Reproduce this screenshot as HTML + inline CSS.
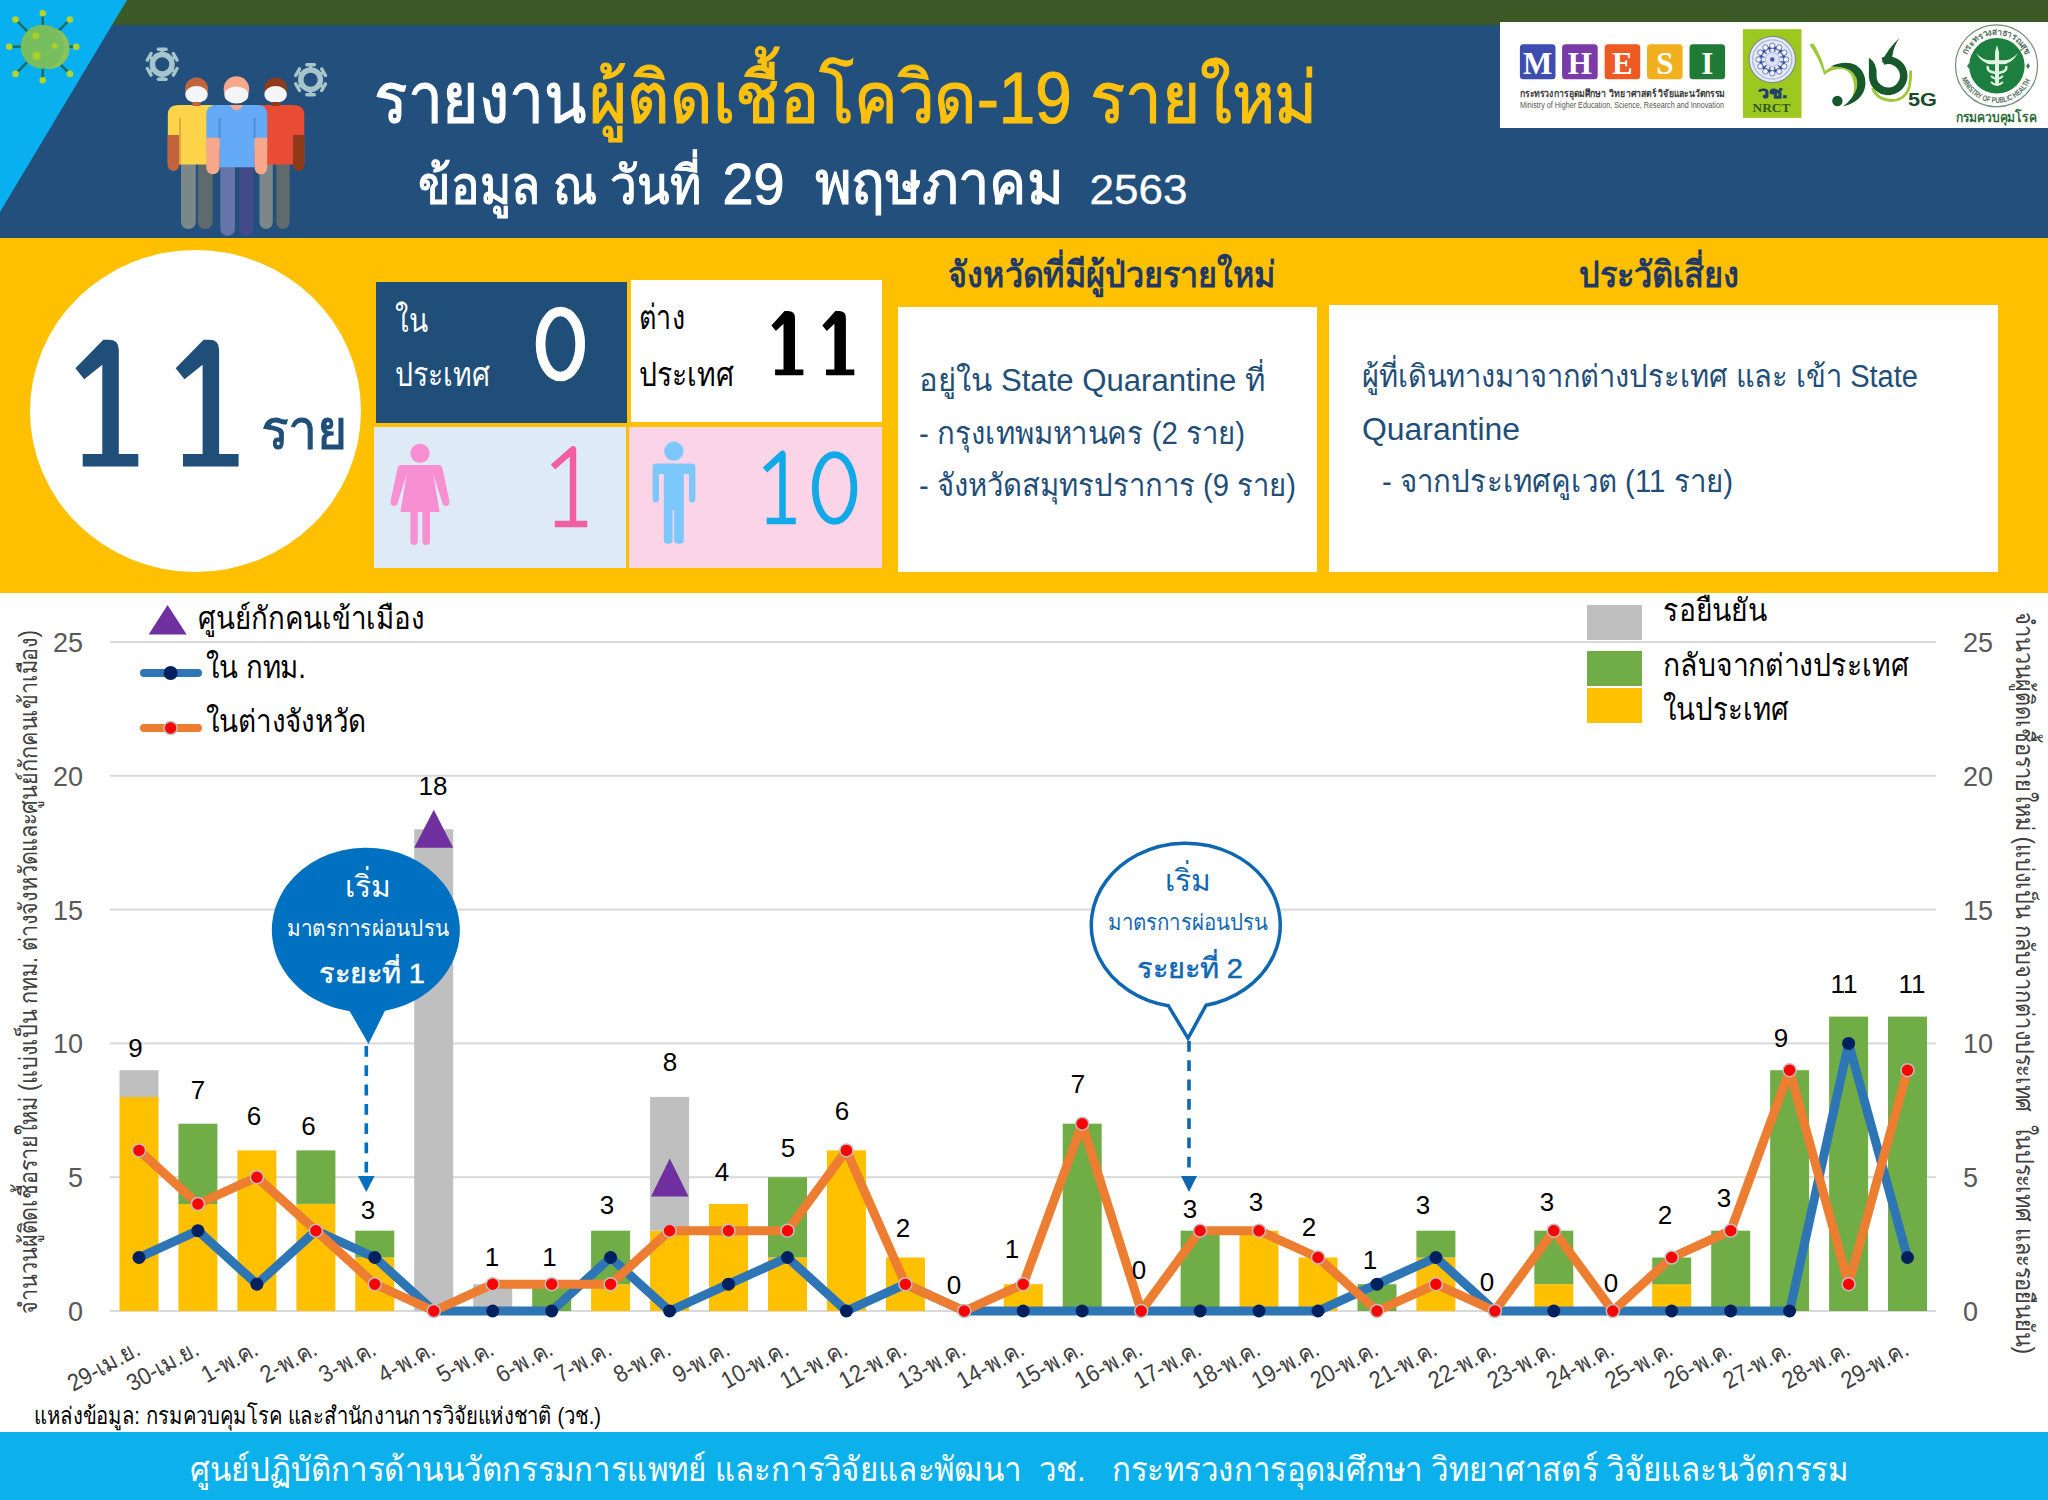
<!DOCTYPE html><html><head><meta charset="utf-8"><style>html,body{margin:0;padding:0;background:#fff;overflow:hidden}svg{display:block}text{font-family:"Liberation Sans",sans-serif;white-space:pre}</style></head><body>
<svg width="2048" height="1500" viewBox="0 0 2048 1500">
<rect width="2048" height="1500" fill="#fff"/>
<rect x="0" y="0" width="2048" height="25" fill="#3b5a27"/>
<rect x="0" y="25" width="2048" height="213" fill="#234f7c"/>
<polygon points="0,0 127,0 0,212" fill="#08b0ef"/>
<rect x="1500" y="22" width="548" height="106" fill="#fff"/>
<line x1="62.7" y1="46.7" x2="76.2" y2="46.7" stroke="#1d6b5c" stroke-width="2.4"/>
<circle cx="76.2" cy="46.7" r="3.3" fill="#b5d42a"/>
<line x1="56.8" y1="60.8" x2="69.9" y2="73.9" stroke="#1d6b5c" stroke-width="2.4"/>
<circle cx="69.9" cy="73.9" r="3.3" fill="#b5d42a"/>
<line x1="42.7" y1="66.7" x2="42.7" y2="80.2" stroke="#1d6b5c" stroke-width="2.4"/>
<circle cx="42.7" cy="80.2" r="3.3" fill="#b5d42a"/>
<line x1="28.6" y1="60.8" x2="15.5" y2="73.9" stroke="#1d6b5c" stroke-width="2.4"/>
<circle cx="15.5" cy="73.9" r="3.3" fill="#b5d42a"/>
<line x1="22.7" y1="46.7" x2="9.2" y2="46.7" stroke="#1d6b5c" stroke-width="2.4"/>
<circle cx="9.2" cy="46.7" r="3.3" fill="#b5d42a"/>
<line x1="28.6" y1="32.6" x2="15.5" y2="19.5" stroke="#1d6b5c" stroke-width="2.4"/>
<circle cx="15.5" cy="19.5" r="3.3" fill="#b5d42a"/>
<line x1="42.7" y1="26.7" x2="42.7" y2="13.2" stroke="#1d6b5c" stroke-width="2.4"/>
<circle cx="42.7" cy="13.2" r="3.3" fill="#b5d42a"/>
<line x1="56.8" y1="32.6" x2="69.9" y2="19.5" stroke="#1d6b5c" stroke-width="2.4"/>
<circle cx="69.9" cy="19.5" r="3.3" fill="#b5d42a"/>
<circle cx="42.7" cy="46.7" r="22" fill="#78bd5e"/>
<path d="M52.7,27.700000000000003 A22,22 0 0 1 44.7,68.7 A20,20 0 0 0 52.7,27.700000000000003 Z" fill="#8cc25a"/>
<circle cx="35.7" cy="35.7" r="3.5" fill="#a8cf2e"/>
<circle cx="54.7" cy="45.7" r="3" fill="#a8cf2e"/>
<circle cx="36.7" cy="55.7" r="4" fill="#a8cf2e"/>
<line x1="162.2" y1="54.3" x2="162.2" y2="49.3" stroke="#a6c4cc" stroke-width="3.2"/>
<line x1="166.0" y1="49.3" x2="158.4" y2="49.3" stroke="#a6c4cc" stroke-width="3.4" stroke-linecap="round"/>
<line x1="153.5" y1="59.3" x2="149.2" y2="56.8" stroke="#a6c4cc" stroke-width="3.2"/>
<line x1="151.1" y1="53.5" x2="147.3" y2="60.1" stroke="#a6c4cc" stroke-width="3.4" stroke-linecap="round"/>
<line x1="153.5" y1="69.3" x2="149.2" y2="71.8" stroke="#a6c4cc" stroke-width="3.2"/>
<line x1="147.3" y1="68.5" x2="151.1" y2="75.1" stroke="#a6c4cc" stroke-width="3.4" stroke-linecap="round"/>
<line x1="162.2" y1="74.3" x2="162.2" y2="79.3" stroke="#a6c4cc" stroke-width="3.2"/>
<line x1="158.4" y1="79.3" x2="166.0" y2="79.3" stroke="#a6c4cc" stroke-width="3.4" stroke-linecap="round"/>
<line x1="170.9" y1="69.3" x2="175.2" y2="71.8" stroke="#a6c4cc" stroke-width="3.2"/>
<line x1="173.3" y1="75.1" x2="177.1" y2="68.5" stroke="#a6c4cc" stroke-width="3.4" stroke-linecap="round"/>
<line x1="170.9" y1="59.3" x2="175.2" y2="56.8" stroke="#a6c4cc" stroke-width="3.2"/>
<line x1="177.1" y1="60.1" x2="173.3" y2="53.5" stroke="#a6c4cc" stroke-width="3.4" stroke-linecap="round"/>
<circle cx="162.2" cy="64.3" r="9.8" fill="none" stroke="#a6c4cc" stroke-width="5.5"/>
<line x1="310.6" y1="69.7" x2="310.6" y2="64.7" stroke="#a6c4cc" stroke-width="3.2"/>
<line x1="314.4" y1="64.7" x2="306.8" y2="64.7" stroke="#a6c4cc" stroke-width="3.4" stroke-linecap="round"/>
<line x1="301.9" y1="74.7" x2="297.6" y2="72.2" stroke="#a6c4cc" stroke-width="3.2"/>
<line x1="299.5" y1="68.9" x2="295.7" y2="75.5" stroke="#a6c4cc" stroke-width="3.4" stroke-linecap="round"/>
<line x1="301.9" y1="84.7" x2="297.6" y2="87.2" stroke="#a6c4cc" stroke-width="3.2"/>
<line x1="295.7" y1="83.9" x2="299.5" y2="90.5" stroke="#a6c4cc" stroke-width="3.4" stroke-linecap="round"/>
<line x1="310.6" y1="89.7" x2="310.6" y2="94.7" stroke="#a6c4cc" stroke-width="3.2"/>
<line x1="306.8" y1="94.7" x2="314.4" y2="94.7" stroke="#a6c4cc" stroke-width="3.4" stroke-linecap="round"/>
<line x1="319.3" y1="84.7" x2="323.6" y2="87.2" stroke="#a6c4cc" stroke-width="3.2"/>
<line x1="321.7" y1="90.5" x2="325.5" y2="83.9" stroke="#a6c4cc" stroke-width="3.4" stroke-linecap="round"/>
<line x1="319.3" y1="74.7" x2="323.6" y2="72.2" stroke="#a6c4cc" stroke-width="3.2"/>
<line x1="325.5" y1="75.5" x2="321.7" y2="68.9" stroke="#a6c4cc" stroke-width="3.4" stroke-linecap="round"/>
<circle cx="310.6" cy="79.7" r="9.8" fill="none" stroke="#a6c4cc" stroke-width="5.5"/>
<rect x="181" y="150" width="14.8" height="79" rx="7" fill="#7c878a"/>
<rect x="198" y="150" width="14.6" height="79" rx="7" fill="#5e6a6c"/>
<path d="M167.8,164.4 L167.8,115 Q167.8,105 178,105 L214,105 L214,164.4 Z" fill="#fdd34a"/>
<rect x="167.8" y="135" width="11.2" height="36" rx="5.6" fill="#c4633b"/>
<rect x="167.8" y="135" width="11.2" height="8" fill="#c4633b"/>
<rect x="179" y="118" width="2" height="47" fill="#b0893a" opacity="0.5"/>
<rect x="259.5" y="150" width="13.3" height="79" rx="6.6" fill="#7c878a"/>
<rect x="276.3" y="150" width="13.3" height="79" rx="6.6" fill="#5e6a6c"/>
<path d="M250,105 L294,105 Q304.3,105 304.3,115 L304.3,164.4 L250,164.4 Z" fill="#e84c35"/>
<rect x="293.1" y="135" width="11.2" height="36" rx="5.6" fill="#8c3a1a"/>
<rect x="293.1" y="135" width="11.2" height="8" fill="#8c3a1a"/>
<circle cx="196.5" cy="89" r="11.5" fill="#c4633b"/>
<ellipse cx="196.5" cy="94.5" rx="11.2" ry="8.5" fill="#f3f5f8"/>
<rect x="192.5" y="102" width="8" height="4" fill="#c4633b"/>
<circle cx="275.6" cy="89" r="11.5" fill="#8f3a1c"/>
<ellipse cx="275.6" cy="94.5" rx="11.2" ry="8.5" fill="#f3f5f8"/>
<rect x="271.6" y="102" width="8" height="4" fill="#8f3a1c"/>
<rect x="220.3" y="160" width="14.7" height="76" rx="7.3" fill="#6574a9"/>
<rect x="239.2" y="160" width="14" height="76" rx="7" fill="#434a8a"/>
<path d="M206.3,150 L206.3,115 Q206.3,105 216,105 L257.5,105 Q267.2,105 267.2,115 L267.2,150 L254.6,150 L254.6,167.2 L219.6,167.2 L219.6,150 Z" fill="#64aaf6"/>
<rect x="206.3" y="137.8" width="13.3" height="36.5" rx="6.6" fill="#f7a88b"/>
<rect x="206.3" y="137.8" width="13.3" height="8" fill="#f7a88b"/>
<rect x="254.6" y="137.8" width="12.6" height="36.5" rx="6.3" fill="#f7a88b"/>
<rect x="254.6" y="137.8" width="12.6" height="8" fill="#f7a88b"/>
<rect x="218.6" y="118" width="2" height="20" fill="#3d7cc0" opacity="0.6"/>
<rect x="253.6" y="118" width="2" height="20" fill="#3d7cc0" opacity="0.6"/>
<path d="M230,105 L243,105 Q241,110 236.5,110 Q232,110 230,105 Z" fill="#f7a88b"/>
<circle cx="236.4" cy="89" r="12.8" fill="#f7a88b"/>
<ellipse cx="236.4" cy="95" rx="12" ry="8.6" fill="#f3f5f8"/>
<rect x="1519.9" y="44.3" width="35.6" height="35" rx="3.5" fill="#3d4db0"/>
<text x="1537.7" y="74.2" font-size="31" fill="#fff" font-weight="bold" text-anchor="middle" style="font-family:'Liberation Serif',serif">M</text>
<rect x="1562.1" y="44.3" width="35.6" height="35" rx="3.5" fill="#7a3aa8"/>
<text x="1579.8999999999999" y="74.2" font-size="31" fill="#fff" font-weight="bold" text-anchor="middle" style="font-family:'Liberation Serif',serif">H</text>
<rect x="1604.6" y="44.3" width="35.6" height="35" rx="3.5" fill="#ee5a24"/>
<text x="1622.3999999999999" y="74.2" font-size="31" fill="#fff" font-weight="bold" text-anchor="middle" style="font-family:'Liberation Serif',serif">E</text>
<rect x="1647" y="44.3" width="35.6" height="35" rx="3.5" fill="#f2b01e"/>
<text x="1664.8" y="74.2" font-size="31" fill="#fff" font-weight="bold" text-anchor="middle" style="font-family:'Liberation Serif',serif">S</text>
<rect x="1689.5" y="44.3" width="35.6" height="35" rx="3.5" fill="#1e7a35"/>
<text x="1707.3" y="74.2" font-size="31" fill="#fff" font-weight="bold" text-anchor="middle" style="font-family:'Liberation Serif',serif">I</text>
<text x="1520" y="96.5" font-size="10" fill="#3a3a3a" font-weight="bold" text-anchor="start" textLength="205" lengthAdjust="spacingAndGlyphs" >กระทรวงการอุดมศึกษา วิทยาศาสตร์ วิจัยและนวัตกรรม</text>
<text x="1520" y="107.8" font-size="8.5" fill="#555" font-weight="normal" text-anchor="start" textLength="204" lengthAdjust="spacingAndGlyphs" >Ministry of Higher Education, Science, Research and Innovation</text>
<rect x="1742.9" y="29.2" width="58.6" height="88.7" fill="#9dc81f"/>
<circle cx="1772.3" cy="59.5" r="23.2" fill="#e6eaf7" stroke="#7f8f86" stroke-width="1.2"/>
<circle cx="1772.3" cy="59.5" r="19.6" fill="none" stroke="#aab3dc" stroke-width="1.2"/>
<line x1="1780.0" y1="61.6" x2="1782.9" y2="62.3" stroke="#4a5fae" stroke-width="1.3"/>
<line x1="1778.0" y1="65.2" x2="1780.1" y2="67.3" stroke="#4a5fae" stroke-width="1.3"/>
<line x1="1774.4" y1="67.2" x2="1775.1" y2="70.1" stroke="#4a5fae" stroke-width="1.3"/>
<line x1="1770.2" y1="67.2" x2="1769.5" y2="70.1" stroke="#4a5fae" stroke-width="1.3"/>
<line x1="1766.6" y1="65.2" x2="1764.5" y2="67.3" stroke="#4a5fae" stroke-width="1.3"/>
<line x1="1764.6" y1="61.6" x2="1761.7" y2="62.3" stroke="#4a5fae" stroke-width="1.3"/>
<line x1="1764.6" y1="57.4" x2="1761.7" y2="56.7" stroke="#4a5fae" stroke-width="1.3"/>
<line x1="1766.6" y1="53.8" x2="1764.5" y2="51.7" stroke="#4a5fae" stroke-width="1.3"/>
<line x1="1770.2" y1="51.8" x2="1769.5" y2="48.9" stroke="#4a5fae" stroke-width="1.3"/>
<line x1="1774.4" y1="51.8" x2="1775.1" y2="48.9" stroke="#4a5fae" stroke-width="1.3"/>
<line x1="1778.0" y1="53.8" x2="1780.1" y2="51.7" stroke="#4a5fae" stroke-width="1.3"/>
<line x1="1780.0" y1="57.4" x2="1782.9" y2="56.7" stroke="#4a5fae" stroke-width="1.3"/>
<circle cx="1772.3" cy="59.5" r="7" fill="#dde3f4" stroke="#9aa8d8" stroke-width="0.8"/>
<circle cx="1772.3" cy="59.5" r="12" fill="none" stroke="#2f4a9a" stroke-width="2.6"/>
<circle cx="1786.1" cy="59.5" r="2.7" fill="#f4f6fc" stroke="#5a6db5" stroke-width="0.9"/>
<circle cx="1784.3" cy="66.4" r="2.7" fill="#f4f6fc" stroke="#5a6db5" stroke-width="0.9"/>
<circle cx="1779.2" cy="71.5" r="2.7" fill="#f4f6fc" stroke="#5a6db5" stroke-width="0.9"/>
<circle cx="1772.3" cy="73.3" r="2.7" fill="#f4f6fc" stroke="#5a6db5" stroke-width="0.9"/>
<circle cx="1765.4" cy="71.5" r="2.7" fill="#f4f6fc" stroke="#5a6db5" stroke-width="0.9"/>
<circle cx="1760.3" cy="66.4" r="2.7" fill="#f4f6fc" stroke="#5a6db5" stroke-width="0.9"/>
<circle cx="1758.5" cy="59.5" r="2.7" fill="#f4f6fc" stroke="#5a6db5" stroke-width="0.9"/>
<circle cx="1760.3" cy="52.6" r="2.7" fill="#f4f6fc" stroke="#5a6db5" stroke-width="0.9"/>
<circle cx="1765.4" cy="47.5" r="2.7" fill="#f4f6fc" stroke="#5a6db5" stroke-width="0.9"/>
<circle cx="1772.3" cy="45.7" r="2.7" fill="#f4f6fc" stroke="#5a6db5" stroke-width="0.9"/>
<circle cx="1779.2" cy="47.5" r="2.7" fill="#f4f6fc" stroke="#5a6db5" stroke-width="0.9"/>
<circle cx="1784.3" cy="52.6" r="2.7" fill="#f4f6fc" stroke="#5a6db5" stroke-width="0.9"/>
<circle cx="1772.3" cy="59.5" r="2.2" fill="#3d56a8"/>
<text x="1772.5" y="98.4" font-size="16" fill="#23406e" font-weight="bold" text-anchor="middle" textLength="30" stroke="#23406e" stroke-width="0.6" lengthAdjust="spacingAndGlyphs">วช.</text>
<text x="1771.5" y="111.8" font-size="11.5" fill="#2e5a1e" font-weight="bold" text-anchor="middle" textLength="38" lengthAdjust="spacingAndGlyphs" style="font-family:'Liberation Serif',serif">NRCT</text>
<path d="M1809.5,44.7 L1813.5,43.5 Q1822,57 1825,71 Q1834,63 1846,65.5 Q1857,69 1858,84 Q1858,95 1851.3,100.5 Q1854.5,92 1854,84 Q1852,71 1843,69 Q1832,68 1824.2,75 Q1819,58 1809.5,44.7 Z" fill="#9cc83a"/>
<path d="M1830.8,66.6 Q1844,60 1856,65 Q1866,72 1865.5,84 Q1864,101 1843,106.5 Q1853,99 1857,88 Q1859,76 1850,70 Q1841,66 1830.8,66.6 Z" fill="#17592c"/>
<circle cx="1837.4" cy="101" r="5.2" fill="#17592c"/>
<path d="M1872.5,88 Q1877,100 1891.5,100.5 Q1906,100 1909.5,86 Q1911,78 1910.6,70.5" fill="none" stroke="#9cc83a" stroke-width="2.8"/>
<path d="M1872.7,75.8 A15.5,15.5 0 1 0 1882.8,61.3" fill="none" stroke="#17592c" stroke-width="7.6"/>
<path d="M1868.9,76 L1868.9,57.8 Q1877.5,63 1876.6,76 Z" fill="#17592c"/>
<path d="M1881.5,62.5 Q1888,48 1899.6,38 Q1893,47 1892.3,57 Z" fill="#17592c"/>
<text x="1908" y="106" font-size="19" fill="#1a4a2a" font-weight="bold" textLength="29" lengthAdjust="spacingAndGlyphs">5G</text>
<circle cx="1996.5" cy="65.8" r="41" fill="#fff" stroke="#6f8f78" stroke-width="1.2"/>
<path id="mtop" d="M1967.4,55.2 A31,31 0 0 1 2025.6,55.2" fill="none"/>
<path id="mbot" d="M1961.7,78.45 A37,37 0 0 0 2031.3,78.45" fill="none"/>
<text font-size="9" fill="#56705c" font-weight="bold"><textPath href="#mtop" textLength="75" lengthAdjust="spacingAndGlyphs">กระทรวงสาธารณสุข</textPath></text>
<text font-size="8" fill="#56705c" font-weight="bold"><textPath href="#mbot" textLength="88" lengthAdjust="spacingAndGlyphs">MINISTRY OF PUBLIC HEALTH</textPath></text>
<path d="M1967,66 l2,-3 l2,3 l-2,3 Z M2026,66 l2,-3 l2,3 l-2,3 Z" fill="#56705c"/>
<circle cx="1996.9" cy="65.8" r="27.8" fill="#1d7f3f"/>
<path d="M1997,45 L1999,52 L1999,85 L1995,85 L1995,52 Z" fill="#dff3df"/>
<path d="M1976,53 Q1984,62 1995,60 L1995,64 Q1983,66 1976,53 Z M2018,53 Q2010,62 1999,60 L1999,64 Q2011,66 2018,53 Z" fill="#dff3df"/>
<path d="M1988,66 Q1986,72 1997,73 Q2008,72 2006,66" fill="none" stroke="#dff3df" stroke-width="2.5"/>
<path d="M1991,76 Q1997,82 2003,76 M1991,82 Q1997,88 2003,82" fill="none" stroke="#dff3df" stroke-width="2"/>
<text x="1996.2" y="122" font-size="14" fill="#2d6b3a" font-weight="bold" text-anchor="middle" textLength="81" lengthAdjust="spacingAndGlyphs">กรมควบคุมโรค</text>
<text x="374" y="122.5" font-size="72" fill="#fff" font-weight="normal" text-anchor="start" textLength="212" lengthAdjust="spacingAndGlyphs" stroke="#fff" stroke-width="1.2">รายงาน</text>
<text x="589" y="122.5" font-size="72" fill="#fec10e" font-weight="normal" text-anchor="start" textLength="728" lengthAdjust="spacingAndGlyphs" stroke="#fec10e" stroke-width="1.2">ผู้ติดเชื้อโควิด-19 รายใหม่</text>
<text x="418.4" y="203.5" font-size="53" fill="#fff" font-weight="normal" text-anchor="start" textLength="283" lengthAdjust="spacingAndGlyphs" stroke="#fff" stroke-width="1.2">ข้อมูล ณ วันที่</text>
<text x="722.5" y="204.2" font-size="57" fill="#fff" font-weight="normal" text-anchor="start" textLength="62" lengthAdjust="spacingAndGlyphs" stroke="#fff" stroke-width="1">29</text>
<text x="814.5" y="203.5" font-size="61" fill="#fff" font-weight="normal" text-anchor="start" textLength="249" lengthAdjust="spacingAndGlyphs" stroke="#fff" stroke-width="1.2">พฤษภาคม</text>
<text x="1089.5" y="204.2" font-size="43" fill="#fff" font-weight="normal" text-anchor="start" textLength="98" lengthAdjust="spacingAndGlyphs" stroke="#fff" stroke-width="0.3">2563</text>
<rect x="0" y="238" width="2048" height="355" fill="#fec000"/>
<ellipse cx="195.5" cy="411" rx="165.5" ry="161" fill="#fff"/>
<path d="M82.7,466.5 H138.3 V454.0 H118.8 V349.7 Q118.8,339.8 108.9,339.8 H103.3 L75.4,368.3 L84.2,379.3 L102.3,364.8 V454.0 H82.7 Z" fill="#1f4e79"/>
<path d="M183.0,466.5 H238.6 V454.0 H219.1 V349.7 Q219.1,339.8 209.2,339.8 H203.6 L175.7,368.3 L184.5,379.3 L202.6,364.8 V454.0 H183.0 Z" fill="#1f4e79"/>
<text x="260.5" y="449" font-size="56" fill="#1f4e79" font-weight="normal" text-anchor="start" textLength="87" lengthAdjust="spacingAndGlyphs" stroke="#1f4e79" stroke-width="1">ราย</text>
<rect x="376" y="282" width="251" height="141" fill="#1f4e79"/>
<rect x="631" y="280" width="251" height="142" fill="#fff"/>
<rect x="374" y="427" width="252" height="141" fill="#deebf7"/>
<rect x="629" y="427" width="253" height="141" fill="#fbd4e8"/>
<text x="395" y="332" font-size="34" fill="#fff" font-weight="normal" text-anchor="start" textLength="33" lengthAdjust="spacingAndGlyphs" >ใน</text>
<text x="395" y="386" font-size="34" fill="#fff" font-weight="normal" text-anchor="start" textLength="95" lengthAdjust="spacingAndGlyphs" >ประเทศ</text>
<ellipse cx="560.4" cy="344" rx="19.8" ry="32.5" fill="none" stroke="#fff" stroke-width="9.7"/>
<text x="639" y="329" font-size="34" fill="#000" font-weight="normal" text-anchor="start" textLength="46" lengthAdjust="spacingAndGlyphs" >ต่าง</text>
<text x="639" y="386" font-size="34" fill="#000" font-weight="normal" text-anchor="start" textLength="95" lengthAdjust="spacingAndGlyphs" >ประเทศ</text>
<path d="M775.1,375.3 H803.4 V369.5 H795.0 V317.9 Q795.0,311.0 788.1,311.0 H784.5 L771.4,325.5 L775.9,331.1 L783.5,323.7 V369.5 H775.1 Z" fill="#000"/>
<path d="M826.0,375.3 H854.3 V369.5 H845.9 V317.9 Q845.9,311.0 839.0,311.0 H835.4 L822.3,325.5 L826.8,331.1 L834.4,323.7 V369.5 H826.0 Z" fill="#000"/>
<path d="M553,467 L573,449.5 L573,524 M554.8,524 H587.3" fill="none" stroke="#f0609f" stroke-width="6.5" stroke-linejoin="round"/>
<path d="M765,470 L782.5,454 L782.5,521 M766.7,521 H795.8" fill="none" stroke="#12a9e8" stroke-width="6.5" stroke-linejoin="round"/>
<ellipse cx="834.6" cy="488" rx="19.3" ry="33.4" fill="none" stroke="#12a9e8" stroke-width="6.8"/>
<circle cx="420" cy="453.4" r="9.6" fill="#f88fd2"/>
<path d="M401,465 L439,465 Q442,465 442.6,469 L449.4,501 Q450,505.8 446,506 Q443,506.2 442.4,503 L433.2,474 L439.6,512 L400.4,512 L406.8,474 L397.6,503 Q397,506.2 394,506 Q390,505.8 390.6,501 L397.4,469 Q398,465 401,465 Z" fill="#f88fd2"/>
<rect x="410.4" y="508" width="7.4" height="37" rx="3.7" fill="#f88fd2"/>
<rect x="422.4" y="508" width="7.6" height="37" rx="3.8" fill="#f88fd2"/>
<circle cx="673.8" cy="451.2" r="9.6" fill="#7cc7fb"/>
<path d="M656,463.6 L692,463.6 Q695.4,463.6 695.4,467 L695.4,499 Q695.4,502.5 692.2,502.5 Q689,502.5 689,499 L689,474 L683.8,474 L683.8,540.5 Q683.8,543.8 679,543.8 Q674.2,543.8 674.2,540.5 L674.2,510 L672.6,510 L672.6,540.5 Q672.6,543.8 668.2,543.8 Q663.8,543.8 663.8,540.5 L663.8,474 L659,474 L659,499 Q659,502.5 655.8,502.5 Q652.6,502.5 652.6,499 L652.6,467 Q652.6,463.6 656,463.6 Z" fill="#7cc7fb"/>
<text x="948" y="287" font-size="36" fill="#1f3864" font-weight="bold" text-anchor="start" textLength="328" lengthAdjust="spacingAndGlyphs" >จังหวัดที่มีผู้ป่วยรายใหม่</text>
<text x="1579" y="287" font-size="36" fill="#1f3864" font-weight="bold" text-anchor="start" textLength="160" lengthAdjust="spacingAndGlyphs" >ประวัติเสี่ยง</text>
<rect x="898" y="307" width="419" height="265" fill="#fff"/>
<rect x="1329" y="305" width="669" height="267" fill="#fff"/>
<text x="919" y="391" font-size="31" fill="#1f4e79" font-weight="normal" text-anchor="start" textLength="346" lengthAdjust="spacingAndGlyphs" >อยู่ใน State Quarantine ที่</text>
<text x="919" y="444" font-size="31" fill="#1f4e79" font-weight="normal" text-anchor="start" textLength="326" lengthAdjust="spacingAndGlyphs" >- กรุงเทพมหานคร (2 ราย)</text>
<text x="919" y="496" font-size="31" fill="#1f4e79" font-weight="normal" text-anchor="start" textLength="377" lengthAdjust="spacingAndGlyphs" >- จังหวัดสมุทรปราการ (9 ราย)</text>
<text x="1362" y="387" font-size="31" fill="#1f4e79" font-weight="normal" text-anchor="start" textLength="556" lengthAdjust="spacingAndGlyphs" >ผู้ที่เดินทางมาจากต่างประเทศ และ เข้า State</text>
<text x="1362" y="440" font-size="31" fill="#1f4e79" font-weight="normal" text-anchor="start" textLength="158" lengthAdjust="spacingAndGlyphs" >Quarantine</text>
<text x="1382" y="492" font-size="31" fill="#1f4e79" font-weight="normal" text-anchor="start" textLength="351" lengthAdjust="spacingAndGlyphs" >- จากประเทศคูเวต (11 ราย)</text>
<rect x="110" y="1310.0" width="1826" height="2" fill="#d9d9d9"/>
<text x="83" y="1321.0" font-size="27" fill="#595959" font-weight="normal" text-anchor="end" >0</text>
<text x="1963" y="1321.0" font-size="27" fill="#595959" font-weight="normal" text-anchor="start" >0</text>
<rect x="110" y="1176.2" width="1826" height="2" fill="#d9d9d9"/>
<text x="83" y="1187.2" font-size="27" fill="#595959" font-weight="normal" text-anchor="end" >5</text>
<text x="1963" y="1187.2" font-size="27" fill="#595959" font-weight="normal" text-anchor="start" >5</text>
<rect x="110" y="1042.4" width="1826" height="2" fill="#d9d9d9"/>
<text x="83" y="1053.4" font-size="27" fill="#595959" font-weight="normal" text-anchor="end" >10</text>
<text x="1963" y="1053.4" font-size="27" fill="#595959" font-weight="normal" text-anchor="start" >10</text>
<rect x="110" y="908.6" width="1826" height="2" fill="#d9d9d9"/>
<text x="83" y="919.6" font-size="27" fill="#595959" font-weight="normal" text-anchor="end" >15</text>
<text x="1963" y="919.6" font-size="27" fill="#595959" font-weight="normal" text-anchor="start" >15</text>
<rect x="110" y="774.8" width="1826" height="2" fill="#d9d9d9"/>
<text x="83" y="785.8" font-size="27" fill="#595959" font-weight="normal" text-anchor="end" >20</text>
<text x="1963" y="785.8" font-size="27" fill="#595959" font-weight="normal" text-anchor="start" >20</text>
<rect x="110" y="641.0" width="1826" height="2" fill="#d9d9d9"/>
<text x="83" y="652.0" font-size="27" fill="#595959" font-weight="normal" text-anchor="end" >25</text>
<text x="1963" y="652.0" font-size="27" fill="#595959" font-weight="normal" text-anchor="start" >25</text>
<rect x="119.5" y="1096.9" width="39" height="214.1" fill="#ffc000"/>
<rect x="119.5" y="1070.2" width="39" height="26.8" fill="#bfbfbf"/>
<rect x="178.4" y="1204.0" width="39" height="107.0" fill="#ffc000"/>
<rect x="178.4" y="1123.7" width="39" height="80.3" fill="#70ad47"/>
<rect x="237.4" y="1150.4" width="39" height="160.6" fill="#ffc000"/>
<rect x="296.4" y="1204.0" width="39" height="107.0" fill="#ffc000"/>
<rect x="296.4" y="1150.4" width="39" height="53.5" fill="#70ad47"/>
<rect x="355.3" y="1257.5" width="39" height="53.5" fill="#ffc000"/>
<rect x="355.3" y="1230.7" width="39" height="26.8" fill="#70ad47"/>
<rect x="414.2" y="829.3" width="39" height="481.7" fill="#bfbfbf"/>
<rect x="473.2" y="1284.2" width="39" height="26.8" fill="#bfbfbf"/>
<rect x="532.2" y="1284.2" width="39" height="26.8" fill="#70ad47"/>
<rect x="591.1" y="1284.2" width="39" height="26.8" fill="#ffc000"/>
<rect x="591.1" y="1230.7" width="39" height="53.5" fill="#70ad47"/>
<rect x="650.1" y="1230.7" width="39" height="80.3" fill="#ffc000"/>
<rect x="650.1" y="1096.9" width="39" height="133.8" fill="#bfbfbf"/>
<rect x="709.0" y="1204.0" width="39" height="107.0" fill="#ffc000"/>
<rect x="768.0" y="1257.5" width="39" height="53.5" fill="#ffc000"/>
<rect x="768.0" y="1177.2" width="39" height="80.3" fill="#70ad47"/>
<rect x="826.9" y="1150.4" width="39" height="160.6" fill="#ffc000"/>
<rect x="885.9" y="1257.5" width="39" height="53.5" fill="#ffc000"/>
<rect x="1003.8" y="1284.2" width="39" height="26.8" fill="#ffc000"/>
<rect x="1062.7" y="1123.7" width="39" height="187.3" fill="#70ad47"/>
<rect x="1180.6" y="1230.7" width="39" height="80.3" fill="#70ad47"/>
<rect x="1239.5" y="1230.7" width="39" height="80.3" fill="#ffc000"/>
<rect x="1298.5" y="1257.5" width="39" height="53.5" fill="#ffc000"/>
<rect x="1357.5" y="1284.2" width="39" height="26.8" fill="#70ad47"/>
<rect x="1416.4" y="1257.5" width="39" height="53.5" fill="#ffc000"/>
<rect x="1416.4" y="1230.7" width="39" height="26.8" fill="#70ad47"/>
<rect x="1534.3" y="1284.2" width="39" height="26.8" fill="#ffc000"/>
<rect x="1534.3" y="1230.7" width="39" height="53.5" fill="#70ad47"/>
<rect x="1652.2" y="1284.2" width="39" height="26.8" fill="#ffc000"/>
<rect x="1652.2" y="1257.5" width="39" height="26.8" fill="#70ad47"/>
<rect x="1711.2" y="1230.7" width="39" height="80.3" fill="#70ad47"/>
<rect x="1770.1" y="1070.2" width="39" height="240.8" fill="#70ad47"/>
<rect x="1829.1" y="1016.6" width="39" height="294.4" fill="#70ad47"/>
<rect x="1888.0" y="1016.6" width="39" height="294.4" fill="#70ad47"/>
<polygon points="414.2,847.7 453.2,847.7 433.8,809.7" fill="#7030a0"/>
<polygon points="651.0,1196.5 688.5,1196.5 669.8,1158.5" fill="#7030a0"/>
<polyline points="139.0,1257.5 197.9,1230.7 256.9,1284.2 315.9,1230.7 374.8,1257.5 433.8,1311.0 492.7,1311.0 551.7,1311.0 610.6,1257.5 669.6,1311.0 728.5,1284.2 787.5,1257.5 846.4,1311.0 905.4,1284.2 964.3,1311.0 1023.2,1311.0 1082.2,1311.0 1141.2,1311.0 1200.1,1311.0 1259.0,1311.0 1318.0,1311.0 1377.0,1284.2 1435.9,1257.5 1494.9,1311.0 1553.8,1311.0 1612.8,1311.0 1671.7,1311.0 1730.7,1311.0 1789.6,1311.0 1848.6,1043.4 1907.5,1257.5" fill="none" stroke="#2e75b6" stroke-width="9" stroke-linejoin="round"/>
<polyline points="139.0,1150.4 197.9,1204.0 256.9,1177.2 315.9,1230.7 374.8,1284.2 433.8,1311.0 492.7,1284.2 551.7,1284.2 610.6,1284.2 669.6,1230.7 728.5,1230.7 787.5,1230.7 846.4,1150.4 905.4,1284.2 964.3,1311.0 1023.2,1284.2 1082.2,1123.7 1141.2,1311.0 1200.1,1230.7 1259.0,1230.7 1318.0,1257.5 1377.0,1311.0 1435.9,1284.2 1494.9,1311.0 1553.8,1230.7 1612.8,1311.0 1671.7,1257.5 1730.7,1230.7 1789.6,1070.2 1848.6,1284.2 1907.5,1070.2" fill="none" stroke="#ed7d31" stroke-width="9" stroke-linejoin="round"/>
<circle cx="139.0" cy="1257.5" r="6.5" fill="#002060"/>
<circle cx="197.9" cy="1230.7" r="6.5" fill="#002060"/>
<circle cx="256.9" cy="1284.2" r="6.5" fill="#002060"/>
<circle cx="315.9" cy="1230.7" r="6.5" fill="#002060"/>
<circle cx="374.8" cy="1257.5" r="6.5" fill="#002060"/>
<circle cx="433.8" cy="1311.0" r="6.5" fill="#002060"/>
<circle cx="492.7" cy="1311.0" r="6.5" fill="#002060"/>
<circle cx="551.7" cy="1311.0" r="6.5" fill="#002060"/>
<circle cx="610.6" cy="1257.5" r="6.5" fill="#002060"/>
<circle cx="669.6" cy="1311.0" r="6.5" fill="#002060"/>
<circle cx="728.5" cy="1284.2" r="6.5" fill="#002060"/>
<circle cx="787.5" cy="1257.5" r="6.5" fill="#002060"/>
<circle cx="846.4" cy="1311.0" r="6.5" fill="#002060"/>
<circle cx="905.4" cy="1284.2" r="6.5" fill="#002060"/>
<circle cx="964.3" cy="1311.0" r="6.5" fill="#002060"/>
<circle cx="1023.2" cy="1311.0" r="6.5" fill="#002060"/>
<circle cx="1082.2" cy="1311.0" r="6.5" fill="#002060"/>
<circle cx="1141.2" cy="1311.0" r="6.5" fill="#002060"/>
<circle cx="1200.1" cy="1311.0" r="6.5" fill="#002060"/>
<circle cx="1259.0" cy="1311.0" r="6.5" fill="#002060"/>
<circle cx="1318.0" cy="1311.0" r="6.5" fill="#002060"/>
<circle cx="1377.0" cy="1284.2" r="6.5" fill="#002060"/>
<circle cx="1435.9" cy="1257.5" r="6.5" fill="#002060"/>
<circle cx="1494.9" cy="1311.0" r="6.5" fill="#002060"/>
<circle cx="1553.8" cy="1311.0" r="6.5" fill="#002060"/>
<circle cx="1612.8" cy="1311.0" r="6.5" fill="#002060"/>
<circle cx="1671.7" cy="1311.0" r="6.5" fill="#002060"/>
<circle cx="1730.7" cy="1311.0" r="6.5" fill="#002060"/>
<circle cx="1789.6" cy="1311.0" r="6.5" fill="#002060"/>
<circle cx="1848.6" cy="1043.4" r="6.5" fill="#002060"/>
<circle cx="1907.5" cy="1257.5" r="6.5" fill="#002060"/>
<circle cx="139.0" cy="1150.4" r="6.5" fill="#ff0000" stroke="#bfbfbf" stroke-width="1.5"/>
<circle cx="197.9" cy="1204.0" r="6.5" fill="#ff0000" stroke="#bfbfbf" stroke-width="1.5"/>
<circle cx="256.9" cy="1177.2" r="6.5" fill="#ff0000" stroke="#bfbfbf" stroke-width="1.5"/>
<circle cx="315.9" cy="1230.7" r="6.5" fill="#ff0000" stroke="#bfbfbf" stroke-width="1.5"/>
<circle cx="374.8" cy="1284.2" r="6.5" fill="#ff0000" stroke="#bfbfbf" stroke-width="1.5"/>
<circle cx="433.8" cy="1311.0" r="6.5" fill="#ff0000" stroke="#bfbfbf" stroke-width="1.5"/>
<circle cx="492.7" cy="1284.2" r="6.5" fill="#ff0000" stroke="#bfbfbf" stroke-width="1.5"/>
<circle cx="551.7" cy="1284.2" r="6.5" fill="#ff0000" stroke="#bfbfbf" stroke-width="1.5"/>
<circle cx="610.6" cy="1284.2" r="6.5" fill="#ff0000" stroke="#bfbfbf" stroke-width="1.5"/>
<circle cx="669.6" cy="1230.7" r="6.5" fill="#ff0000" stroke="#bfbfbf" stroke-width="1.5"/>
<circle cx="728.5" cy="1230.7" r="6.5" fill="#ff0000" stroke="#bfbfbf" stroke-width="1.5"/>
<circle cx="787.5" cy="1230.7" r="6.5" fill="#ff0000" stroke="#bfbfbf" stroke-width="1.5"/>
<circle cx="846.4" cy="1150.4" r="6.5" fill="#ff0000" stroke="#bfbfbf" stroke-width="1.5"/>
<circle cx="905.4" cy="1284.2" r="6.5" fill="#ff0000" stroke="#bfbfbf" stroke-width="1.5"/>
<circle cx="964.3" cy="1311.0" r="6.5" fill="#ff0000" stroke="#bfbfbf" stroke-width="1.5"/>
<circle cx="1023.2" cy="1284.2" r="6.5" fill="#ff0000" stroke="#bfbfbf" stroke-width="1.5"/>
<circle cx="1082.2" cy="1123.7" r="6.5" fill="#ff0000" stroke="#bfbfbf" stroke-width="1.5"/>
<circle cx="1141.2" cy="1311.0" r="6.5" fill="#ff0000" stroke="#bfbfbf" stroke-width="1.5"/>
<circle cx="1200.1" cy="1230.7" r="6.5" fill="#ff0000" stroke="#bfbfbf" stroke-width="1.5"/>
<circle cx="1259.0" cy="1230.7" r="6.5" fill="#ff0000" stroke="#bfbfbf" stroke-width="1.5"/>
<circle cx="1318.0" cy="1257.5" r="6.5" fill="#ff0000" stroke="#bfbfbf" stroke-width="1.5"/>
<circle cx="1377.0" cy="1311.0" r="6.5" fill="#ff0000" stroke="#bfbfbf" stroke-width="1.5"/>
<circle cx="1435.9" cy="1284.2" r="6.5" fill="#ff0000" stroke="#bfbfbf" stroke-width="1.5"/>
<circle cx="1494.9" cy="1311.0" r="6.5" fill="#ff0000" stroke="#bfbfbf" stroke-width="1.5"/>
<circle cx="1553.8" cy="1230.7" r="6.5" fill="#ff0000" stroke="#bfbfbf" stroke-width="1.5"/>
<circle cx="1612.8" cy="1311.0" r="6.5" fill="#ff0000" stroke="#bfbfbf" stroke-width="1.5"/>
<circle cx="1671.7" cy="1257.5" r="6.5" fill="#ff0000" stroke="#bfbfbf" stroke-width="1.5"/>
<circle cx="1730.7" cy="1230.7" r="6.5" fill="#ff0000" stroke="#bfbfbf" stroke-width="1.5"/>
<circle cx="1789.6" cy="1070.2" r="6.5" fill="#ff0000" stroke="#bfbfbf" stroke-width="1.5"/>
<circle cx="1848.6" cy="1284.2" r="6.5" fill="#ff0000" stroke="#bfbfbf" stroke-width="1.5"/>
<circle cx="1907.5" cy="1070.2" r="6.5" fill="#ff0000" stroke="#bfbfbf" stroke-width="1.5"/>
<text x="135.5" y="1057.3" font-size="26" fill="#000" font-weight="normal" text-anchor="middle" >9</text>
<text x="198" y="1099.3" font-size="26" fill="#000" font-weight="normal" text-anchor="middle" >7</text>
<text x="254" y="1125.3" font-size="26" fill="#000" font-weight="normal" text-anchor="middle" >6</text>
<text x="308.5" y="1135.3" font-size="26" fill="#000" font-weight="normal" text-anchor="middle" >6</text>
<text x="368" y="1219.3" font-size="26" fill="#000" font-weight="normal" text-anchor="middle" >3</text>
<text x="433" y="795.3" font-size="26" fill="#000" font-weight="normal" text-anchor="middle" >18</text>
<text x="492" y="1266.3" font-size="26" fill="#000" font-weight="normal" text-anchor="middle" >1</text>
<text x="549.4" y="1266.3" font-size="26" fill="#000" font-weight="normal" text-anchor="middle" >1</text>
<text x="607" y="1214.3" font-size="26" fill="#000" font-weight="normal" text-anchor="middle" >3</text>
<text x="670" y="1071.3" font-size="26" fill="#000" font-weight="normal" text-anchor="middle" >8</text>
<text x="722" y="1181.3" font-size="26" fill="#000" font-weight="normal" text-anchor="middle" >4</text>
<text x="788" y="1157.3" font-size="26" fill="#000" font-weight="normal" text-anchor="middle" >5</text>
<text x="842" y="1120.3" font-size="26" fill="#000" font-weight="normal" text-anchor="middle" >6</text>
<text x="903" y="1237.3" font-size="26" fill="#000" font-weight="normal" text-anchor="middle" >2</text>
<text x="954" y="1294.3" font-size="26" fill="#000" font-weight="normal" text-anchor="middle" >0</text>
<text x="1012" y="1258.3" font-size="26" fill="#000" font-weight="normal" text-anchor="middle" >1</text>
<text x="1078" y="1093.3" font-size="26" fill="#000" font-weight="normal" text-anchor="middle" >7</text>
<text x="1139" y="1279.3" font-size="26" fill="#000" font-weight="normal" text-anchor="middle" >0</text>
<text x="1190" y="1218.3" font-size="26" fill="#000" font-weight="normal" text-anchor="middle" >3</text>
<text x="1256" y="1211.3" font-size="26" fill="#000" font-weight="normal" text-anchor="middle" >3</text>
<text x="1309" y="1236.3" font-size="26" fill="#000" font-weight="normal" text-anchor="middle" >2</text>
<text x="1370" y="1269.3" font-size="26" fill="#000" font-weight="normal" text-anchor="middle" >1</text>
<text x="1423" y="1214.3" font-size="26" fill="#000" font-weight="normal" text-anchor="middle" >3</text>
<text x="1487" y="1291.3" font-size="26" fill="#000" font-weight="normal" text-anchor="middle" >0</text>
<text x="1547" y="1211.3" font-size="26" fill="#000" font-weight="normal" text-anchor="middle" >3</text>
<text x="1611" y="1292.3" font-size="26" fill="#000" font-weight="normal" text-anchor="middle" >0</text>
<text x="1665" y="1224.3" font-size="26" fill="#000" font-weight="normal" text-anchor="middle" >2</text>
<text x="1724" y="1207.3" font-size="26" fill="#000" font-weight="normal" text-anchor="middle" >3</text>
<text x="1781" y="1047.3" font-size="26" fill="#000" font-weight="normal" text-anchor="middle" >9</text>
<text x="1844" y="993.3" font-size="26" fill="#000" font-weight="normal" text-anchor="middle" >11</text>
<text x="1912" y="993.3" font-size="26" fill="#000" font-weight="normal" text-anchor="middle" >11</text>
<text x="142.0" y="1354" font-size="24" fill="#404040" text-anchor="end" textLength="78.5" lengthAdjust="spacingAndGlyphs" transform="rotate(-29 142.0 1354)">29-เม.ย.</text>
<text x="200.9" y="1354" font-size="24" fill="#404040" text-anchor="end" textLength="78.5" lengthAdjust="spacingAndGlyphs" transform="rotate(-29 200.9 1354)">30-เม.ย.</text>
<text x="259.9" y="1354" font-size="24" fill="#404040" text-anchor="end" textLength="60.9" lengthAdjust="spacingAndGlyphs" transform="rotate(-29 259.9 1354)">1-พ.ค.</text>
<text x="318.9" y="1354" font-size="24" fill="#404040" text-anchor="end" textLength="60.9" lengthAdjust="spacingAndGlyphs" transform="rotate(-29 318.9 1354)">2-พ.ค.</text>
<text x="377.8" y="1354" font-size="24" fill="#404040" text-anchor="end" textLength="60.9" lengthAdjust="spacingAndGlyphs" transform="rotate(-29 377.8 1354)">3-พ.ค.</text>
<text x="436.8" y="1354" font-size="24" fill="#404040" text-anchor="end" textLength="60.9" lengthAdjust="spacingAndGlyphs" transform="rotate(-29 436.8 1354)">4-พ.ค.</text>
<text x="495.7" y="1354" font-size="24" fill="#404040" text-anchor="end" textLength="60.9" lengthAdjust="spacingAndGlyphs" transform="rotate(-29 495.7 1354)">5-พ.ค.</text>
<text x="554.7" y="1354" font-size="24" fill="#404040" text-anchor="end" textLength="60.9" lengthAdjust="spacingAndGlyphs" transform="rotate(-29 554.7 1354)">6-พ.ค.</text>
<text x="613.6" y="1354" font-size="24" fill="#404040" text-anchor="end" textLength="60.9" lengthAdjust="spacingAndGlyphs" transform="rotate(-29 613.6 1354)">7-พ.ค.</text>
<text x="672.6" y="1354" font-size="24" fill="#404040" text-anchor="end" textLength="60.9" lengthAdjust="spacingAndGlyphs" transform="rotate(-29 672.6 1354)">8-พ.ค.</text>
<text x="731.5" y="1354" font-size="24" fill="#404040" text-anchor="end" textLength="60.9" lengthAdjust="spacingAndGlyphs" transform="rotate(-29 731.5 1354)">9-พ.ค.</text>
<text x="790.5" y="1354" font-size="24" fill="#404040" text-anchor="end" textLength="73.0" lengthAdjust="spacingAndGlyphs" transform="rotate(-29 790.5 1354)">10-พ.ค.</text>
<text x="849.4" y="1354" font-size="24" fill="#404040" text-anchor="end" textLength="73.0" lengthAdjust="spacingAndGlyphs" transform="rotate(-29 849.4 1354)">11-พ.ค.</text>
<text x="908.4" y="1354" font-size="24" fill="#404040" text-anchor="end" textLength="73.0" lengthAdjust="spacingAndGlyphs" transform="rotate(-29 908.4 1354)">12-พ.ค.</text>
<text x="967.3" y="1354" font-size="24" fill="#404040" text-anchor="end" textLength="73.0" lengthAdjust="spacingAndGlyphs" transform="rotate(-29 967.3 1354)">13-พ.ค.</text>
<text x="1026.2" y="1354" font-size="24" fill="#404040" text-anchor="end" textLength="73.0" lengthAdjust="spacingAndGlyphs" transform="rotate(-29 1026.2 1354)">14-พ.ค.</text>
<text x="1085.2" y="1354" font-size="24" fill="#404040" text-anchor="end" textLength="73.0" lengthAdjust="spacingAndGlyphs" transform="rotate(-29 1085.2 1354)">15-พ.ค.</text>
<text x="1144.2" y="1354" font-size="24" fill="#404040" text-anchor="end" textLength="73.0" lengthAdjust="spacingAndGlyphs" transform="rotate(-29 1144.2 1354)">16-พ.ค.</text>
<text x="1203.1" y="1354" font-size="24" fill="#404040" text-anchor="end" textLength="73.0" lengthAdjust="spacingAndGlyphs" transform="rotate(-29 1203.1 1354)">17-พ.ค.</text>
<text x="1262.0" y="1354" font-size="24" fill="#404040" text-anchor="end" textLength="73.0" lengthAdjust="spacingAndGlyphs" transform="rotate(-29 1262.0 1354)">18-พ.ค.</text>
<text x="1321.0" y="1354" font-size="24" fill="#404040" text-anchor="end" textLength="73.0" lengthAdjust="spacingAndGlyphs" transform="rotate(-29 1321.0 1354)">19-พ.ค.</text>
<text x="1380.0" y="1354" font-size="24" fill="#404040" text-anchor="end" textLength="73.0" lengthAdjust="spacingAndGlyphs" transform="rotate(-29 1380.0 1354)">20-พ.ค.</text>
<text x="1438.9" y="1354" font-size="24" fill="#404040" text-anchor="end" textLength="73.0" lengthAdjust="spacingAndGlyphs" transform="rotate(-29 1438.9 1354)">21-พ.ค.</text>
<text x="1497.9" y="1354" font-size="24" fill="#404040" text-anchor="end" textLength="73.0" lengthAdjust="spacingAndGlyphs" transform="rotate(-29 1497.9 1354)">22-พ.ค.</text>
<text x="1556.8" y="1354" font-size="24" fill="#404040" text-anchor="end" textLength="73.0" lengthAdjust="spacingAndGlyphs" transform="rotate(-29 1556.8 1354)">23-พ.ค.</text>
<text x="1615.8" y="1354" font-size="24" fill="#404040" text-anchor="end" textLength="73.0" lengthAdjust="spacingAndGlyphs" transform="rotate(-29 1615.8 1354)">24-พ.ค.</text>
<text x="1674.7" y="1354" font-size="24" fill="#404040" text-anchor="end" textLength="73.0" lengthAdjust="spacingAndGlyphs" transform="rotate(-29 1674.7 1354)">25-พ.ค.</text>
<text x="1733.7" y="1354" font-size="24" fill="#404040" text-anchor="end" textLength="73.0" lengthAdjust="spacingAndGlyphs" transform="rotate(-29 1733.7 1354)">26-พ.ค.</text>
<text x="1792.6" y="1354" font-size="24" fill="#404040" text-anchor="end" textLength="73.0" lengthAdjust="spacingAndGlyphs" transform="rotate(-29 1792.6 1354)">27-พ.ค.</text>
<text x="1851.6" y="1354" font-size="24" fill="#404040" text-anchor="end" textLength="73.0" lengthAdjust="spacingAndGlyphs" transform="rotate(-29 1851.6 1354)">28-พ.ค.</text>
<text x="1910.5" y="1354" font-size="24" fill="#404040" text-anchor="end" textLength="73.0" lengthAdjust="spacingAndGlyphs" transform="rotate(-29 1910.5 1354)">29-พ.ค.</text>
<text x="0" y="0" font-size="25" fill="#404040" text-anchor="middle" transform="translate(37 972) rotate(-90)" textLength="684" lengthAdjust="spacingAndGlyphs">จำนวนผู้ติดเชื้อรายใหม่ (แบ่งเป็น กทม. ต่างจังหวัดและศูนย์กักคนเข้าเมือง)</text>
<text x="0" y="0" font-size="25" fill="#404040" text-anchor="middle" transform="translate(2016 983) rotate(90)" textLength="742" lengthAdjust="spacingAndGlyphs">จำนวนผู้ติดเชื้อรายใหม่ (แบ่งเป็น กลับจากต่างประเทศ  ในประเทศ และรอยืนยัน)</text>
<polygon points="148.6,634.4 186.6,634.4 167.6,605" fill="#7030a0"/>
<text x="198" y="629" font-size="31" fill="#000" font-weight="normal" text-anchor="start" textLength="226" lengthAdjust="spacingAndGlyphs" >ศูนย์กักคนเข้าเมือง</text>
<line x1="144" y1="673" x2="198" y2="673" stroke="#2e75b6" stroke-width="8" stroke-linecap="round"/>
<circle cx="170.6" cy="673" r="7" fill="#002060"/>
<text x="206" y="678" font-size="31" fill="#000" font-weight="normal" text-anchor="start" textLength="100" lengthAdjust="spacingAndGlyphs" >ใน กทม.</text>
<line x1="144" y1="728" x2="198" y2="728" stroke="#ed7d31" stroke-width="8" stroke-linecap="round"/>
<circle cx="170.6" cy="728" r="6.5" fill="#ff0000" stroke="#bfbfbf" stroke-width="1.5"/>
<text x="206" y="732" font-size="31" fill="#000" font-weight="normal" text-anchor="start" textLength="160" lengthAdjust="spacingAndGlyphs" >ในต่างจังหวัด</text>
<rect x="1587" y="605" width="55" height="35" fill="#bfbfbf"/>
<rect x="1587" y="651" width="55" height="35" fill="#70ad47"/>
<rect x="1587" y="688" width="55" height="35" fill="#ffc000"/>
<text x="1663" y="621" font-size="31" fill="#000" font-weight="normal" text-anchor="start" textLength="104" lengthAdjust="spacingAndGlyphs" >รอยืนยัน</text>
<text x="1663" y="676" font-size="31" fill="#000" font-weight="normal" text-anchor="start" textLength="246" lengthAdjust="spacingAndGlyphs" >กลับจากต่างประเทศ</text>
<text x="1663" y="720" font-size="31" fill="#000" font-weight="normal" text-anchor="start" textLength="126" lengthAdjust="spacingAndGlyphs" >ในประเทศ</text>
<path d="M349.7,1011.2 A94,82.4 0 1 1 385,1010.7 L368.5,1044 Z" fill="#0070c0"/>
<line x1="366.3" y1="1046" x2="366.3" y2="1176" stroke="#0070c0" stroke-width="3.6" stroke-dasharray="10.8 8.5"/>
<polygon points="358,1176 374.6,1176 366.3,1192" fill="#0070c0"/>
<path d="M1168.4,1005.8 A94.5,82 0 1 1 1206,1005.3 L1188,1038.3 Z" fill="#fff" stroke="#0f67b1" stroke-width="3.5" stroke-linejoin="miter"/>
<line x1="1189" y1="1041" x2="1189" y2="1176" stroke="#0f67b1" stroke-width="3.6" stroke-dasharray="10.8 8.5"/>
<polygon points="1181,1176 1197,1176 1189,1192" fill="#0f67b1"/>
<text x="368" y="897" font-size="30" fill="#fff" font-weight="normal" text-anchor="middle" >เริ่ม</text>
<text x="368" y="936" font-size="22" fill="#fff" font-weight="normal" text-anchor="middle" textLength="162" lengthAdjust="spacingAndGlyphs" >มาตรการผ่อนปรน</text>
<text x="372" y="983" font-size="28" fill="#fff" font-weight="normal" text-anchor="middle" textLength="106" lengthAdjust="spacingAndGlyphs" stroke="#fff" stroke-width="0.5">ระยะที่ 1</text>
<text x="1188" y="891" font-size="30" fill="#0f67b1" font-weight="normal" text-anchor="middle" >เริ่ม</text>
<text x="1188" y="930" font-size="22" fill="#0f67b1" font-weight="normal" text-anchor="middle" textLength="160" lengthAdjust="spacingAndGlyphs" >มาตรการผ่อนปรน</text>
<text x="1190" y="978" font-size="28" fill="#0f67b1" font-weight="normal" text-anchor="middle" textLength="106" lengthAdjust="spacingAndGlyphs" stroke="#0f67b1" stroke-width="0.5">ระยะที่ 2</text>
<text x="34" y="1424" font-size="24" fill="#000" font-weight="normal" text-anchor="start" textLength="567" lengthAdjust="spacingAndGlyphs" >แหล่งข้อมูล: กรมควบคุมโรค และสำนักงานการวิจัยแห่งชาติ (วช.)</text>
<rect x="0" y="1432" width="2048" height="68" fill="#0cb1ec"/>
<text x="190" y="1481" font-size="34" fill="#fff" font-weight="normal" text-anchor="start" textLength="1658" lengthAdjust="spacingAndGlyphs" >ศูนย์ปฏิบัติการด้านนวัตกรรมการแพทย์ และการวิจัยและพัฒนา  วช.   กระทรวงการอุดมศึกษา วิทยาศาสตร์ วิจัยและนวัตกรรม</text>
</svg></body></html>
